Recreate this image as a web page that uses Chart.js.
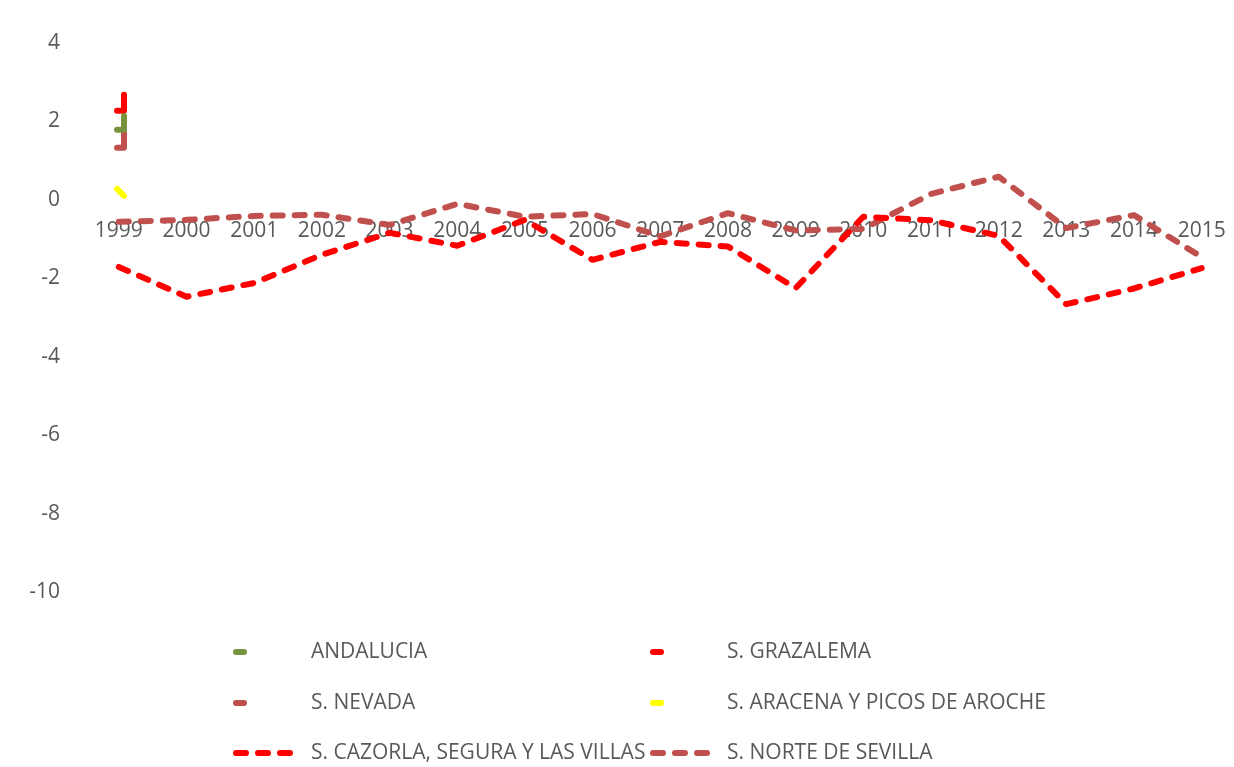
<!DOCTYPE html>
<html>
<head>
<meta charset="utf-8">
<script src="https://cdn.jsdelivr.net/npm/chart.js@4"></script>
<style>
    html, body { margin: 0; padding: 0; background: #fff; overflow: hidden; }
    #wrap { position: relative; width: 1245px; height: 767px; }
</style>
</head>
<body>
<div id="wrap"><canvas id="chart"></canvas></div>
<script>
// --- Data ---
const years = ['1999', '2000', '2001', '2002', '2003', '2004', '2005', '2006', '2007',
               '2008', '2009', '2010', '2011', '2012', '2013', '2014', '2015'];

const cazorla = [-1.71, -2.47, -2.12, -1.40, -0.84, -1.17, -0.51, -1.53, -1.07,
                 -1.19, -2.25, -0.43, -0.52, -0.92, -2.66, -2.26, -1.74];
const norteSevilla = [-0.56, -0.51, -0.41, -0.38, -0.64, -0.10, -0.43, -0.36, -0.93,
                      -0.34, -0.78, -0.74, 0.15, 0.59, -0.72, -0.39, -1.46];

// series squeezed against the first category (secondary axis)
const squeezedX = [0, 1, 1];
const andalucia = [1.79, 1.79, 2.14];
const grazalema = [2.27, 2.27, 2.68];
const nevada = [1.33, 1.33, 1.71];
const aracena = [0.28, 0.10, 0.10];

const yTicks = [4, 2, 0, -2, -4, -6, -8, -10];

const colors = {
    green: '#77933C',
    red: '#FF0000',
    brick: '#C0504D',
    yellow: '#FFFF00',
    text: '#595959'
};

const FONT = "'Open Sans', 'Liberation Sans', sans-serif";

function squeezed(values) {
    return values.map((v, i) => ({ x: squeezedX[i], y: v }));
}

function shortLine(label, values, color) {
    return {
        label,
        data: squeezed(values),
        xAxisID: 'x2',
        borderColor: color,
        backgroundColor: color,
        borderWidth: 6,
        borderCapStyle: 'round',
        borderJoinStyle: 'round',
        pointRadius: 0,
        legendLen: 8
    };
}

function dashedLine(label, values, color) {
    return {
        label,
        data: values,
        xAxisID: 'x',
        borderColor: color,
        backgroundColor: color,
        borderWidth: 6,
        borderDash: [10, 12],
        borderCapStyle: 'round',
        borderJoinStyle: 'round',
        pointRadius: 0,
        tension: 0,
        legendLen: 56
    };
}

// --- Legend in a two column grid ---
const gridLegend = {
    id: 'gridLegend',
    afterDraw(chart, args, opts) {
        const ctx = chart.ctx;
        ctx.save();
        chart.data.datasets.forEach((ds, i) => {
            const col = i % 2;
            const row = Math.floor(i / 2);
            const x = opts.cols[col];
            const y = opts.rows[row];
            ctx.beginPath();
            ctx.strokeStyle = ds.borderColor;
            ctx.lineWidth = ds.borderWidth;
            ctx.lineCap = 'round';
            ctx.setLineDash(ds.borderDash || []);
            ctx.moveTo(x, y);
            ctx.lineTo(x + ds.legendLen, y);
            ctx.stroke();
            ctx.setLineDash([]);
            ctx.fillStyle = colors.text;
            ctx.font = opts.font;
            ctx.textBaseline = 'middle';
            ctx.textAlign = 'left';
            ctx.fillText(ds.label, opts.textCols[col], y);
        });
        ctx.restore();
    }
};

new Chart(document.getElementById('chart'), {
    type: 'line',
    data: {
        labels: years,
        datasets: [
            shortLine('ANDALUCIA', andalucia, colors.green),
            shortLine('S. GRAZALEMA', grazalema, colors.red),
            shortLine('S. NEVADA', nevada, colors.brick),
            shortLine('S. ARACENA Y PICOS DE AROCHE', aracena, colors.yellow),
            dashedLine('S. CAZORLA, SEGURA Y LAS VILLAS', cazorla, colors.red),
            dashedLine('S. NORTE DE SEVILLA', norteSevilla, colors.brick)
        ]
    },
    options: {
        responsive: true,
        maintainAspectRatio: false,
        animation: false,
        layout: { padding: { left: 0, right: 4, top: 43, bottom: 175 } },
        scales: {
            x: {
                type: 'category',
                position: { y: 0 },
                offset: true,
                grid: { display: false, drawTicks: false },
                border: { display: false },
                ticks: {
                    color: colors.text,
                    font: { family: FONT, size: 21 },
                    padding: 19,
                    maxRotation: 0,
                    autoSkip: false
                }
            },
            x2: {
                type: 'linear',
                display: false,
                min: -4.6,
                max: 160.6
            },
            y: {
                min: -10,
                max: 4,
                afterFit(scale) { scale.width = 85; },
                afterBuildTicks(scale) { scale.ticks = yTicks.map(v => ({ value: v })); },
                grid: { display: false, drawTicks: false },
                border: { display: false },
                ticks: {
                    color: colors.text,
                    font: { family: FONT, size: 21 },
                    padding: 25
                }
            }
        },
        plugins: {
            legend: { display: false },
            tooltip: { enabled: false },
            gridLegend: {
                cols: [236, 653],
                textCols: [311, 727],
                rows: [652, 703, 753],
                font: `21px ${FONT}`
            }
        }
    },
    plugins: [gridLegend]
});
</script>
</body>
</html>
